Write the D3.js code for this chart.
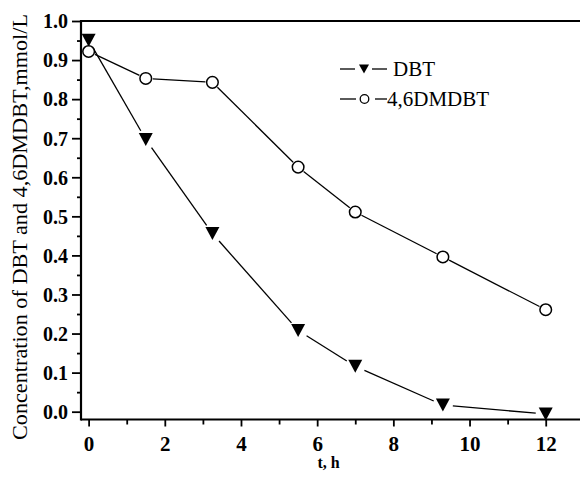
<!DOCTYPE html>
<html><head><meta charset="utf-8">
<script src="https://cdn.jsdelivr.net/npm/d3@7"></script>
<style>body{margin:0;background:#fff}svg{display:block}</style>
</head><body>
<svg id="c" width="580" height="477"></svg>
<script>
const times = [0, 1.5, 3.25, 5.5, 7, 9.3, 12];
const dbt = [0.951, 0.697, 0.456, 0.208, 0.116, 0.017, -0.006];
const dmdbt = [0.922, 0.853, 0.843, 0.626, 0.511, 0.396, 0.261];
const xTicks = [0, 2, 4, 6, 8, 10, 12];
const xMinor = [1, 3, 5, 7, 9, 11];
const yTicks = [0, 0.1, 0.2, 0.3, 0.4, 0.5, 0.6, 0.7, 0.8, 0.9, 1.0];
const yMinor = [0.05, 0.15, 0.25, 0.35, 0.45, 0.55, 0.65, 0.75, 0.85, 0.95];
const seriesNames = ["DBT", "4,6DMDBT"];
const yTitle = "Concentration of DBT and 4,6DMDBT,mmol/L";
const xTitle = "t, h";

const svg = d3.select("#c");
const font = "Liberation Serif, Times New Roman, Times, Nimbus Roman, DejaVu Serif, serif";
const L = 81, R = 580, T = 21, B = 419.5;
const x = d3.scaleLinear().domain([-0.2, 12.9]).range([L, R]);
const y = d3.scaleLinear().domain([-0.02, 1.0]).range([B, T]);

const g = svg.append("g");
g.append("line").attr("x1", L).attr("x2", R).attr("y1", y(1.0)).attr("y2", y(1.0)).attr("stroke", "#000").attr("stroke-width", 2.2);

const yAxis = g.append("g").attr("transform", `translate(${L},0)`)
  .call(d3.axisLeft(y).tickValues(yTicks).tickFormat(d3.format(".1f")).tickSize(9).tickPadding(4));
const yAxisMinor = g.append("g").attr("transform", `translate(${L},0)`)
  .call(d3.axisLeft(y).tickValues(yMinor).tickFormat("").tickSize(4));
const xAxis = g.append("g").attr("transform", `translate(0,${B})`)
  .call(d3.axisBottom(x).tickValues(xTicks).tickFormat(d3.format("d")).tickSize(7).tickPadding(10));
const xAxisMinor = g.append("g").attr("transform", `translate(0,${B})`)
  .call(d3.axisBottom(x).tickValues(xMinor).tickFormat("").tickSize(5));
[yAxis, yAxisMinor, xAxis, xAxisMinor].forEach(a => {
  a.attr("font-family", null).attr("font-size", null);
  a.select(".domain").remove();
  a.selectAll(".tick line").attr("stroke", "#000").attr("stroke-width", 1.8);
  a.selectAll("text").style("font-family", font).style("font-weight", "bold").attr("fill", "#000");
});
yAxis.selectAll("text").style("font-size", "20px").attr("dy", "0.34em");
xAxis.selectAll("text").style("font-size", "21px");
g.append("line").attr("x1", L).attr("x2", L).attr("y1", T - 1).attr("y2", B + 1).attr("stroke", "#000").attr("stroke-width", 2.2);
g.append("line").attr("x1", L).attr("x2", R).attr("y1", B).attr("y2", B).attr("stroke", "#000").attr("stroke-width", 2.2);

svg.append("text").attr("transform", `translate(27,227) rotate(-90)`)
  .attr("text-anchor", "middle").style("font-family", font).style("font-size", "20px")
  .attr("textLength", 426).attr("lengthAdjust", "spacingAndGlyphs")
  .text(yTitle);
svg.append("text").attr("x", 328.5).attr("y", 468).attr("text-anchor", "middle")
  .style("font-family", font).style("font-size", "16px").style("font-weight", "bold").text(xTitle);

const tri = "M-7,-6.5L7,-6.5L0,6.5Z";
function drawSeries(vals, gap0, gap1) {
  const pts = times.map((t, i) => [x(t), y(vals[i])]);
  for (let i = 0; i < pts.length - 1; i++) {
    const [x0, y0] = pts[i], [x1, y1] = pts[i + 1];
    const dx = x1 - x0, dy = y1 - y0, len = Math.hypot(dx, dy);
    const ux = dx / len, uy = dy / len;
    g.append("line")
      .attr("x1", x0 + ux * gap0).attr("y1", y0 + uy * gap0)
      .attr("x2", x1 - ux * gap1).attr("y2", y1 - uy * gap1)
      .attr("stroke", "#000").attr("stroke-width", 1.3);
  }
  return pts;
}
drawSeries(dbt, 10, 10).forEach(p => {
  g.append("path").attr("d", tri).attr("transform", `translate(${p[0]},${p[1]})`).attr("fill", "#000");
});
drawSeries(dmdbt, 7, 7).forEach(p => {
  g.append("circle").attr("cx", p[0]).attr("cy", p[1]).attr("r", 5.8)
    .attr("fill", "#fff").attr("stroke", "#000").attr("stroke-width", 1.5);
});

const lg = svg.append("g");
const rows = [69, 99];
lg.append("line").attr("x1", 340).attr("x2", 355).attr("y1", rows[0]).attr("y2", rows[0]).attr("stroke", "#000").attr("stroke-width", 1.3);
lg.append("line").attr("x1", 372).attr("x2", 387).attr("y1", rows[0]).attr("y2", rows[0]).attr("stroke", "#000").attr("stroke-width", 1.3);
lg.append("path").attr("d", "M-5,-4.5L5,-4.5L0,4.5Z").attr("transform", `translate(364,${rows[0]})`).attr("fill", "#000");
lg.append("text").attr("x", 393).attr("y", 76).style("font-family", font).style("font-size", "21px").text(seriesNames[0]);
lg.append("line").attr("x1", 340).attr("x2", 356).attr("y1", rows[1]).attr("y2", rows[1]).attr("stroke", "#000").attr("stroke-width", 1.3);
lg.append("line").attr("x1", 375).attr("x2", 387).attr("y1", rows[1]).attr("y2", rows[1]).attr("stroke", "#000").attr("stroke-width", 1.3);
lg.append("circle").attr("cx", 364.5).attr("cy", rows[1]).attr("r", 4.3).attr("fill", "#fff").attr("stroke", "#000").attr("stroke-width", 1.3);
lg.append("text").attr("x", 387).attr("y", 105.5).style("font-family", font).style("font-size", "21px").text(seriesNames[1]);
</script>
</body></html>
